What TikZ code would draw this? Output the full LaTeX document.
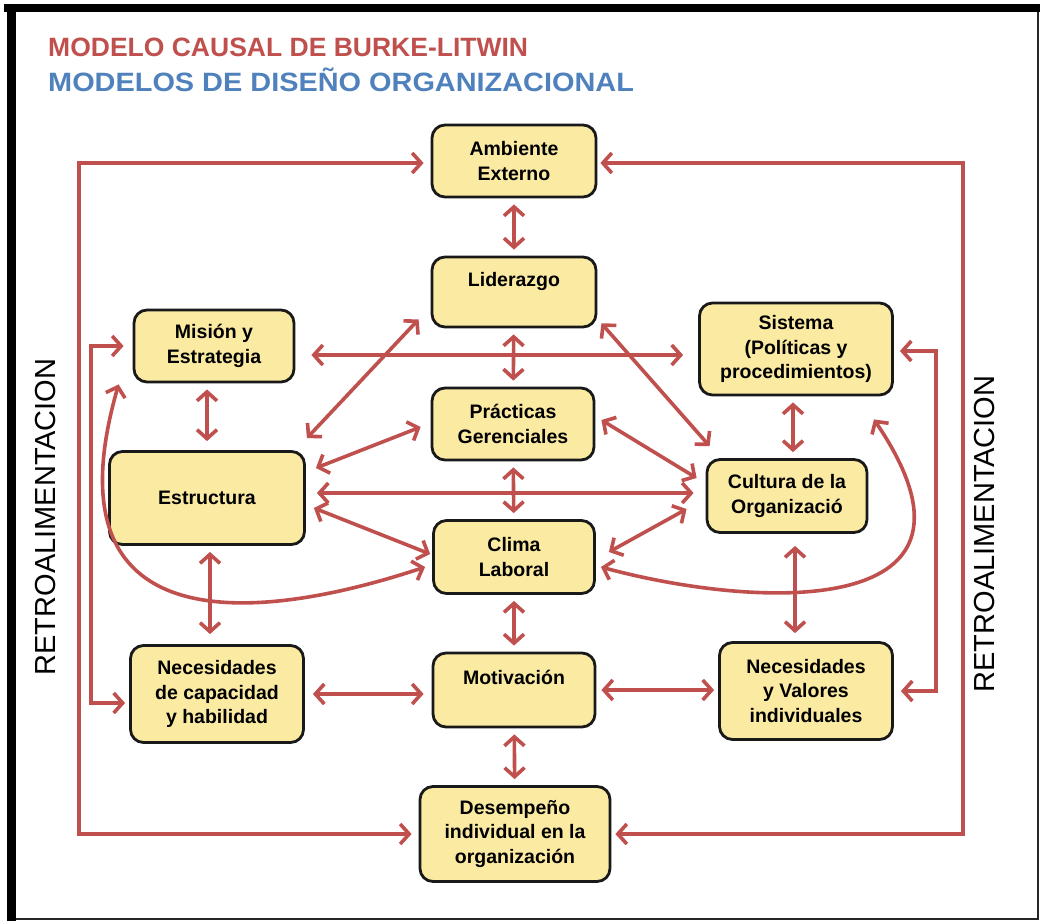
\documentclass[tikz,border=0pt]{standalone}
\usepackage{fontspec}
\setmainfont{Liberation Sans}
\usepackage{graphicx}
\usetikzlibrary{arrows.meta, positioning, calc}
\usepackage{xcolor}
\definecolor{causalred}{RGB}{192,80,77}
\definecolor{disenoblue}{RGB}{79,129,189}
\definecolor{boxyellow}{RGB}{250,234,162}
\definecolor{linkred}{RGB}{192,80,77}

\begin{document}
\begin{tikzpicture}[x=1pt, y=-1pt,
    bloque/.style={draw=black!90, line width=2.8pt, fill=boxyellow, rounded corners=13pt,
        align=center, inner sep=0pt, font=\bfseries\fontsize{19.5}{24.5}\selectfont},
    flecha/.style={draw=linkred, line width=3.6pt,
        {Straight Barb[length=9pt,width=20pt]}-{Straight Barb[length=9pt,width=20pt]},
        shorten <=6pt, shorten >=6pt},
    libre/.style={shorten <=0pt, shorten >=0pt}]
    \useasboundingbox (0,0) rectangle (1040,922);

    % marco
    \fill[black] (4,4) rectangle (1040,12);
    \fill[black] (7,4) rectangle (16,921);
    \draw[black!85, line width=2pt] (16,919) -- (1038,919) -- (1038,12);

    % titulos
    \node[anchor=west, inner sep=0pt, text=causalred, font=\bfseries\fontsize{26.5}{27}\selectfont] (titulo) at (48,47) {MODELO CAUSAL DE BURKE-LITWIN};
    \node[anchor=west, inner sep=0pt, text=disenoblue, font=\bfseries\fontsize{26.5}{27}\selectfont] (subtitulo) at (48,80) {\scalebox{1.09}[1]{MODELOS DE DISEÑO ORGANIZACIONAL}};

    % bloques
    \node[bloque, minimum width=164pt, minimum height=72pt] (ambiente) at (514,161) {Ambiente\\Externo};
    \node[bloque, minimum width=164pt, minimum height=70pt] (liderazgo) at (514,292) {Liderazgo\\~};
    \node[bloque, minimum width=160pt, minimum height=72pt] (mision) at (214,346) {Misión y\\Estrategia};
    \node[bloque, minimum width=193pt, minimum height=92pt] (sistema) at (796,349) {Sistema\\(Políticas y\\procedimientos)};
    \node[bloque, minimum width=162pt, minimum height=72pt] (practicas) at (513,424) {Prácticas\\Gerenciales};
    \node[bloque, minimum width=195pt, minimum height=93pt] (estructura) at (207,498) {Estructura};
    \node[bloque, minimum width=160pt, minimum height=73pt] (cultura) at (787,496) {Cultura de la\\Organizació};
    \node[bloque, minimum width=161pt, minimum height=73pt] (clima) at (514,557) {Clima\\Laboral};
    \node[bloque, minimum width=173pt, minimum height=97pt] (necap) at (217,694) {Necesidades\\de capacidad\\y habilidad};
    \node[bloque, minimum width=162pt, minimum height=74pt] (motivacion) at (514,690) {Motivación\\~};
    \node[bloque, minimum width=173pt, minimum height=97pt] (neval) at (806,691) {Necesidades\\y Valores\\individuales};
    \node[bloque, minimum width=190pt, minimum height=95pt] (desempeno) at (515,834) {Desempeño\\individual en la\\organización};

    % RETROALIMENTACION
    \node[rotate=90, inner sep=0pt, font=\fontsize{29}{29}\selectfont] (retroizq) at (46,517) {RETROALIMENTACION};
    \node[rotate=90, inner sep=0pt, font=\fontsize{29}{29}\selectfont] (retroder) at (985,534) {RETROALIMENTACION};

    % eje central
    \draw[flecha] (ambiente) -- (liderazgo);
    \draw[flecha] (liderazgo) -- (practicas);
    \draw[flecha] (practicas) -- (clima);
    \draw[flecha] (clima) -- (motivacion);
    \draw[flecha] (motivacion) -- (desempeno);

    % columnas laterales
    \draw[flecha, shorten >=9pt] (estructura.north |- mision.south) -- (estructura.north);
    \draw[flecha, shorten >=10pt] ([xshift=3pt]estructura.south) -- ([xshift=3pt]estructura.south |- necap.north);
    \draw[flecha] ([xshift=-3pt]sistema.south) -- ([xshift=-3pt]sistema.south |- cultura.north);
    \draw[flecha, shorten <=12pt, shorten >=8pt] ([xshift=8pt]cultura.south) -- ([xshift=8pt]cultura.south |- neval.north);

    % horizontales
    \draw[flecha, shorten <=16pt, shorten >=15pt] ([yshift=-9pt]mision.east) -- ([yshift=-9pt]mision.east -| sistema.west);
    \draw[flecha, shorten <=11pt, shorten >=12pt] ([yshift=5pt]estructura.east) -- ([yshift=5pt]estructura.east -| cultura.west);
    \draw[flecha, shorten <=8pt, shorten >=8pt] (necap.east) -- (necap.east -| motivacion.west);
    \draw[flecha, shorten <=5pt, shorten >=4pt] (motivacion.east) -- (motivacion.east -| neval.west);

    % diagonales
    \draw[flecha, libre] ([shift={(-12,-9)}]liderazgo.south west) -- ([shift={(1,-12)}]estructura.north east);
    \draw[flecha, libre] ([shift={(4,-5)}]liderazgo.south east) -- ([shift={(4,-12)}]cultura.north west);
    \draw[flecha, libre] ([shift={(-10,3)}]practicas.west) -- ([shift={(10,-30)}]estructura.east);
    \draw[flecha, libre] ([shift={(6,-4)}]practicas.east) -- ([shift={(-9,-18)}]cultura.west);
    \draw[flecha, libre] ([shift={(8,10)}]estructura.east) -- ([shift={(-2,-3)}]clima.west);
    \draw[flecha, libre] ([shift={(13,-5)}]clima.east) -- ([shift={(-19,13)}]cultura.west);

    % curvas
    \draw[flecha, libre] ([shift={(-7,10)}]clima.west) .. controls (250,625) and (45,640) .. ([shift={(-14,1)}]mision.south west);
    \draw[flecha, libre] ([shift={(5,10)}]clima.east) .. controls (760,610) and (1010,620) .. ([shift={(-20,23)}]sistema.south east);

    % retroalimentacion
    \coordinate (izqext) at (79,500);
    \coordinate (izqint) at (91,500);
    \coordinate (derext) at (963,500);
    \coordinate (derint) at (936,500);
    \draw[flecha, shorten <=7pt, shorten >=7pt] ([yshift=-2pt]ambiente.west) -| (izqext) |- (desempeno.west);
    \draw[flecha, shorten <=3pt, shorten >=4pt] ([yshift=-2pt]ambiente.east) -| (derext) |- (desempeno.east);
    \draw[flecha, shorten <=9pt, shorten >=4pt] (mision.west) -| (izqint) |- ([yshift=-9pt]necap.west);
    \draw[flecha, shorten <=6pt, shorten >=7pt] ([yshift=-2pt]sistema.east) -| (derint) |- (neval.east);
\end{tikzpicture}
\end{document}
